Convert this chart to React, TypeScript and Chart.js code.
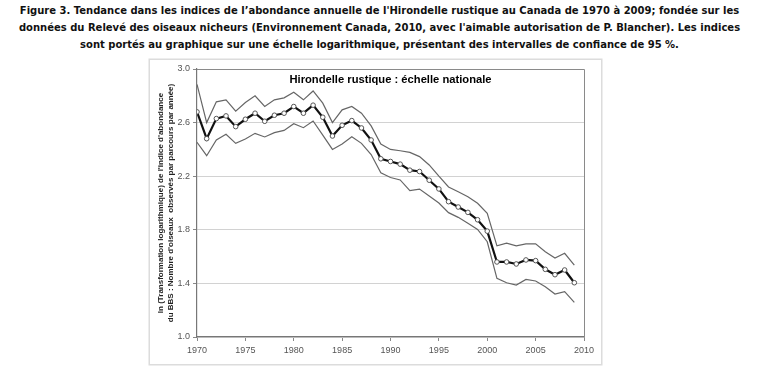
import React, { useEffect, useRef } from "react";
import { Chart, registerables } from "chart.js";

Chart.register(...registerables);

const captionLines = [
  "Figure 3. Tendance dans les indices de l\u2019abondance annuelle de l'Hirondelle rustique au Canada de 1970 à 2009; fondée sur les",
  "données du Relevé des oiseaux nicheurs (Environnement Canada, 2010, avec l'aimable autorisation de P. Blancher). Les indices",
  "sont portés au graphique sur une échelle logarithmique, présentant des intervalles de confiance de 95 %.",
];

const chartTitle = "Hirondelle rustique : échelle nationale";
const yAxisTitle = [
  "ln (Transformation logarithmique) de l'indice d'abondance",
  "du BBS : Nombre d'oiseaux  observés par parcours par année)",
];

const years = [
  1970, 1971, 1972, 1973, 1974, 1975, 1976, 1977, 1978, 1979,
  1980, 1981, 1982, 1983, 1984, 1985, 1986, 1987, 1988, 1989,
  1990, 1991, 1992, 1993, 1994, 1995, 1996, 1997, 1998, 1999,
  2000, 2001, 2002, 2003, 2004, 2005, 2006, 2007, 2008, 2009,
];

const indexValues = [
  2.68, 2.48, 2.63, 2.65, 2.57, 2.625, 2.67, 2.61, 2.655, 2.67,
  2.72, 2.67, 2.73, 2.64, 2.5, 2.58, 2.615, 2.56, 2.47, 2.33,
  2.31, 2.29, 2.245, 2.235, 2.17, 2.105, 2.01, 1.97, 1.93, 1.875,
  1.79, 1.56, 1.56, 1.545, 1.575, 1.57, 1.505, 1.465, 1.5, 1.405,
];

const upperCI = [
  2.885, 2.6, 2.755, 2.77, 2.685, 2.75, 2.8, 2.72, 2.77, 2.785,
  2.826, 2.77, 2.836, 2.745, 2.6, 2.695, 2.72, 2.67, 2.575, 2.44,
  2.4, 2.39, 2.378, 2.346, 2.284, 2.2, 2.12, 2.084, 2.047, 1.998,
  1.923, 1.68, 1.7, 1.68, 1.695, 1.695, 1.637, 1.59, 1.625, 1.537,
];

const lowerCI = [
  2.453, 2.353, 2.47, 2.513, 2.445, 2.478, 2.52, 2.493, 2.525, 2.542,
  2.592, 2.562, 2.612, 2.507, 2.4, 2.44, 2.494, 2.445, 2.362, 2.225,
  2.19, 2.172, 2.092, 2.104, 2.052, 2.0, 1.928, 1.893, 1.849, 1.803,
  1.711, 1.438, 1.405, 1.388, 1.43, 1.418, 1.375, 1.321, 1.338, 1.259,
];

const xMin = 1970;
const xMax = 2010;
const xStep = 5;
const yMin = 1.0;
const yMax = 3.0;
const yStep = 0.4;

const toPoints = (vals: number[]) => years.map((y, i) => ({ x: y, y: vals[i] }));

export default function App() {
  const canvasRef = useRef<HTMLCanvasElement | null>(null);

  useEffect(() => {
    document.body.style.margin = "0";
    const canvas = canvasRef.current;
    if (!canvas) return;

    const framePlugin = {
      id: "frameAndTitle",
      afterDraw(chart: any) {
        const { ctx, chartArea } = chart;
        ctx.save();
        ctx.strokeStyle = "#8a8a8a";
        ctx.lineWidth = 1;
        ctx.beginPath();
        ctx.moveTo(chartArea.left, chartArea.top + 0.5);
        ctx.lineTo(chartArea.right + 0.5, chartArea.top + 0.5);
        ctx.lineTo(chartArea.right + 0.5, chartArea.bottom);
        ctx.stroke();
        ctx.fillStyle = "#000";
        ctx.font = "bold 11.2px 'Liberation Sans', Arial, sans-serif";
        ctx.textAlign = "center";
        ctx.textBaseline = "middle";
        ctx.fillText(chartTitle, (chartArea.left + chartArea.right) / 2, chartArea.top + 11);
        ctx.restore();
      },
    };

    const chart = new Chart(canvas, {
      type: "line",
      data: {
        datasets: [
          {
            label: "upper",
            data: toPoints(upperCI),
            borderColor: "#666",
            borderWidth: 1.2,
            pointRadius: 0,
            fill: false,
            tension: 0,
          },
          {
            label: "lower",
            data: toPoints(lowerCI),
            borderColor: "#666",
            borderWidth: 1.2,
            pointRadius: 0,
            fill: false,
            tension: 0,
          },
          {
            label: "index",
            data: toPoints(indexValues),
            borderColor: "#111",
            borderWidth: 2.2,
            pointRadius: 2.3,
            pointBackgroundColor: "#fff",
            pointBorderColor: "#555",
            pointBorderWidth: 1,
            fill: false,
            tension: 0,
          },
        ],
      },
      plugins: [framePlugin],
      options: {
        responsive: false,
        animation: false,
        layout: { padding: { top: 9, right: 17, left: 0, bottom: 0 } },
        plugins: {
          legend: { display: false },
          tooltip: { enabled: false },
          title: { display: false },
        },
        scales: {
          x: {
            type: "linear",
            min: xMin,
            max: xMax,
            afterFit: (s: any) => {
              s.height = 27;
            },
            ticks: {
              stepSize: xStep,
              color: "#555",
              font: { family: "'Liberation Sans', Arial, sans-serif", size: 9 },
              padding: 4,
              maxRotation: 0,
              callback: (v: any) => String(v),
            },
            grid: {
              drawOnChartArea: false,
              drawTicks: true,
              tickLength: 4,
              color: "#888",
            },
            border: { color: "#777", width: 1.2 },
          },
          y: {
            type: "linear",
            min: yMin,
            max: yMax,
            afterFit: (s: any) => {
              s.width = 47;
            },
            ticks: {
              stepSize: yStep,
              color: "#555",
              font: { family: "'Liberation Sans', Arial, sans-serif", size: 9 },
              padding: 3,
              callback: (v: any) => Number(v).toFixed(1),
            },
            grid: {
              color: (c: any) => (c.tick && c.tick.value >= yMax - 1e-6 ? "rgba(0,0,0,0)" : "#d2d2d2"),
              tickColor: "#888",
              tickLength: 4,
              lineWidth: 1,
            },
            border: { color: "#777", width: 1.2 },
            title: {
              display: true,
              text: yAxisTitle,
              color: "#222",
              font: { family: "'Liberation Sans', Arial, sans-serif", size: 8, weight: "bold", lineHeight: 1.25 },
              padding: { top: 5.7, bottom: 0 },
            },
          },
        },
      },
    } as any);

    return () => chart.destroy();
  }, []);

  return (
    <div style={{ position: "relative", width: 759, height: 367, background: "#fff", overflow: "hidden" }}>
      {captionLines.map((line, i) => (
        <div
          key={i}
          style={{
            position: "absolute",
            left: 0,
            width: 759,
            top: 2 + i * 17,
            height: 17,
            lineHeight: "17px",
            textAlign: "center",
            whiteSpace: "nowrap",
            fontFamily: "'DejaVu Sans', Verdana, sans-serif",
            fontWeight: "bold",
            fontSize: 10,
            color: "#111",
          }}
        >
          {line}
        </div>
      ))}
      <div
        style={{
          position: "absolute",
          left: 150,
          top: 60,
          width: 451,
          height: 304,
          boxShadow: "0 0 0 1.5px #dcdcdc",
        }}
      >
        <canvas ref={canvasRef} width={451} height={304} style={{ display: "block", width: 451, height: 304 }} />
      </div>
    </div>
  );
}
